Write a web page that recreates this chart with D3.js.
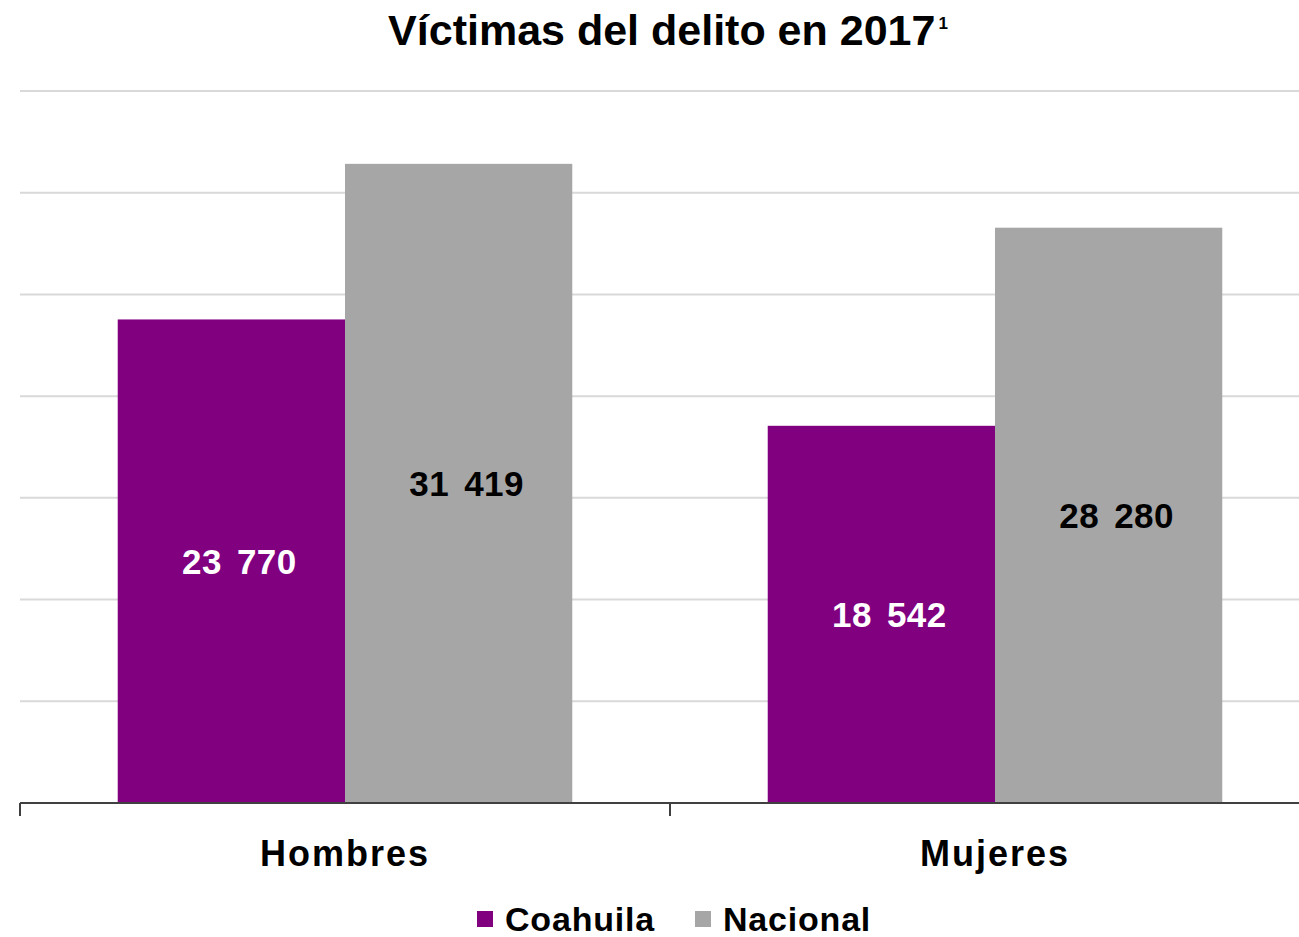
<!DOCTYPE html>
<html><head><meta charset="utf-8">
<script src="https://cdn.jsdelivr.net/npm/d3@7"></script>
<style>body{margin:0;background:#fff;} text{font-family:"Liberation Sans",Arial,sans-serif;font-weight:bold;}</style>
</head><body>
<svg id="chart" width="1299" height="937"></svg>
<script>
const categories = ["Hombres", "Mujeres"];
const seriesNames = ["Coahuila", "Nacional"];
const coahuila = [23770, 18542];
const nacional = [31419, 28280];
const yTicks = [0, 5000, 10000, 15000, 20000, 25000, 30000, 35000];
const colors = ["#800080", "#A6A6A6"];
const labelColors = ["#FFFFFF", "#000000"];

const svg = d3.select("#chart");
const W = 1299, H = 937;
const m = {left: 20, right: -21, top: 91, bottom: 134};
const x0 = d3.scaleBand().domain(categories).range([m.left, W - m.right]).paddingInner(0).paddingOuter(0);
const x1 = d3.scaleBand().domain(seriesNames).range([0, x0.bandwidth()]).paddingInner(0).paddingOuter(0.43);
const y = d3.scaleLinear().domain([0, 35000]).range([H - m.bottom, m.top]);

const fmt = v => d3.format(",")(v).replace(/,/g, "\u2009\u2009");

// gridlines
svg.append("g").selectAll("line").data(yTicks.slice(1)).join("line")
  .attr("x1", m.left).attr("x2", W).attr("y1", d => y(d)).attr("y2", d => y(d))
  .attr("stroke", "#D9D9D9").attr("stroke-width", 2);

const data = categories.map((c, i) => ({cat: c, vals: [coahuila[i], nacional[i]]}));
const g = svg.append("g").selectAll("g").data(data).join("g")
  .attr("transform", d => `translate(${x0(d.cat)},0)`);
g.selectAll("rect").data(d => d.vals.map((v, j) => ({v, s: seriesNames[j], j}))).join("rect")
  .attr("x", d => x1(d.s)).attr("width", x1.bandwidth())
  .attr("y", d => y(d.v)).attr("height", d => y(0) - y(d.v))
  .attr("fill", d => colors[d.j]);
g.selectAll("text").data(d => d.vals.map((v, j) => ({v, s: seriesNames[j], j}))).join("text")
  .attr("x", d => x1(d.s) + x1.bandwidth() / 2 + 8)
  .attr("y", d => (y(d.v) + y(0)) / 2)
  .attr("dy", "0.36em").attr("text-anchor", "middle")
  .attr("font-size", 35).attr("letter-spacing", 0.5).attr("fill", d => labelColors[d.j])
  .text(d => fmt(d.v));

// x axis
svg.append("line").attr("x1", m.left).attr("x2", W).attr("y1", y(0)).attr("y2", y(0))
  .attr("stroke", "#404040").attr("stroke-width", 2);
svg.append("g").selectAll("line").data(categories).join("line")
  .attr("x1", d => x0(d)).attr("x2", d => x0(d)).attr("y1", y(0)).attr("y2", y(0) + 13)
  .attr("stroke", "#404040").attr("stroke-width", 2);
svg.append("g").selectAll("text").data(categories).join("text")
  .attr("x", d => x0(d) + x0.bandwidth() / 2).attr("y", 866)
  .attr("text-anchor", "middle").attr("font-size", 36).attr("letter-spacing", 2)
  .attr("fill", "#000").text(d => d);

// title
const t = svg.append("text").attr("x", 668).attr("y", 45).attr("text-anchor", "middle")
  .attr("font-size", 43).attr("fill", "#000");
t.append("tspan").text("Víctimas del delito en 2017");
t.append("tspan").attr("font-size", 17).attr("dy", -16).attr("dx", 3).text("1");

// legend
const legX = [477, 695];
const lg = svg.append("g").selectAll("g").data(seriesNames).join("g")
  .attr("transform", (d, i) => `translate(${legX[i]},911)`);
lg.append("rect").attr("width", 16).attr("height", 16).attr("fill", (d, i) => colors[i]);
lg.append("text").attr("x", 28).attr("y", 8).attr("dy", "0.36em").attr("font-size", 34)
  .attr("letter-spacing", 0.8).attr("fill", "#000").text(d => d);
</script>
</body></html>
